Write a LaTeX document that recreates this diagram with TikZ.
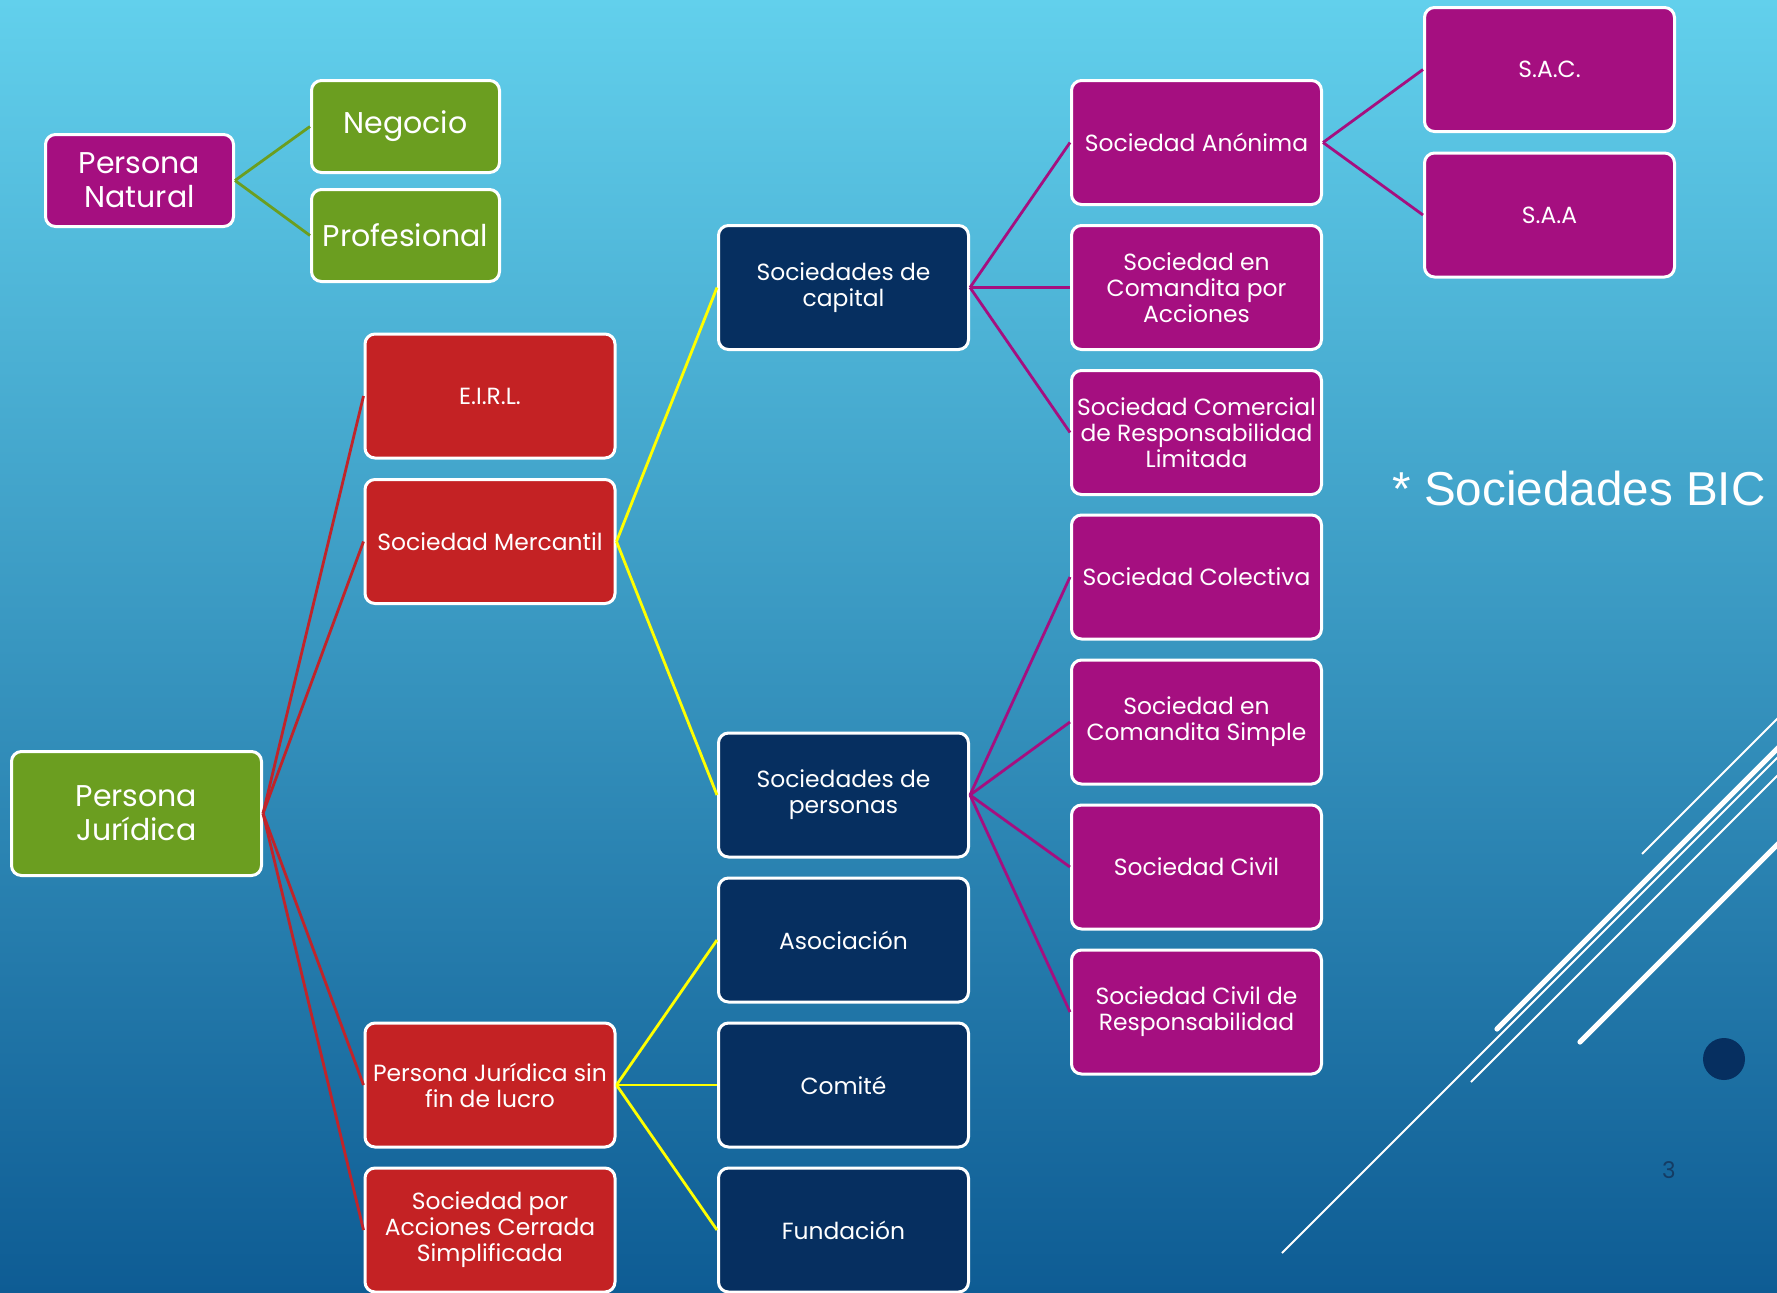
\documentclass[tikz,border=0pt]{standalone}
\usepackage{fontspec}
\setmainfont{Poppins}
\newfontfamily\bicfont{Liberation Sans}
\usetikzlibrary{positioning}

\definecolor{boxmag}{RGB}{165,15,128}
\definecolor{boxgreen}{RGB}{107,158,32}
\definecolor{boxred}{RGB}{196,34,36}
\definecolor{boxnavy}{RGB}{6,47,96}
\definecolor{linkred}{RGB}{192,36,42}
\definecolor{linkyel}{RGB}{255,255,0}
\definecolor{bgtop}{RGB}{98,208,236}
\definecolor{bgmid}{RGB}{52,150,196}
\definecolor{bgbot}{RGB}{14,92,148}
\definecolor{pagenum}{RGB}{20,60,100}

\tikzset{
  box/.style={draw=white, line width=1.5pt, rounded corners=5pt, text=white,
    align=center, inner sep=1pt, minimum width=125pt, minimum height=62pt,
    font=\fontsize{11.7}{13}\selectfont},
  smallbox/.style={box, minimum width=94pt, minimum height=46pt,
    font=\fontsize{15}{17}\selectfont},
  bigtext/.style={font=\fontsize{15}{17}\selectfont},
  magbox/.style={box, fill=boxmag},
  redbox/.style={box, fill=boxred},
  navybox/.style={box, fill=boxnavy},
  link/.style={line width=1.4pt},
}

\begin{document}
\begin{tikzpicture}[x=0.5pt, y=-0.5pt]
			%%%%% START %%%%%
			
			\shade[top color=bgtop, middle color=bgmid, bottom color=bgbot] (0,0) rectangle (1777,1292);
			\useasboundingbox (0,0) rectangle (1777,1292);
			
			% white strokes, lower right
			\begin{scope}
			\clip (0,0) rectangle (1777,1292);
			\draw[white, line width=1pt] (1642,854) -- (1800,696);
			\draw[white, line width=2.6pt, line cap=round] (1497,1029) -- (1800,726);
			\draw[white, line width=1pt] (1471,1082) -- (1800,753);
			\draw[white, line width=2.6pt, line cap=round] (1580,1042) -- (1800,822);
			\draw[white, line width=1pt] (1282,1253) -- (1800,735);
			\end{scope}
			\fill[boxnavy] (1724,1059) circle (21);
			\node[text=pagenum, font=\fontsize{11.5}{12}\selectfont] (pnum) at (1669,1170) {3};
			
			% persona natural
			\node[smallbox, fill=boxmag] (pnat) at (139.5,180.5) {Persona\\Natural};
			\node[smallbox, fill=boxgreen] (negocio) at (405.5,126.5) {Negocio};
			\node[smallbox, fill=boxgreen] (profesional) at (405.5,235.5) {Profesional};
			
			% persona juridica
			\node[box, bigtext, fill=boxgreen] (pjur) at (136.5,813.5) {Persona\\Jurídica};
			
			\node[redbox] (eirl) at (490,396) {E.I.R.L.};
			\node[redbox] (smerc) at (490,541.5) {Sociedad Mercantil};
			\node[redbox] (pjsfl) at (490,1085) {Persona Jurídica sin\\fin de lucro};
			\node[redbox] (sacs) at (490,1230) {Sociedad por\\Acciones Cerrada\\Simplificada};
			
			\node[navybox] (scap) at (843.5,287.5) {Sociedades de\\capital};
			\node[navybox] (spers) at (843.5,795) {Sociedades de\\personas};
			\node[navybox] (asoc) at (843.5,940) {Asociación};
			\node[navybox] (comite) at (843.5,1085) {Comité};
			\node[navybox] (fund) at (843.5,1230) {Fundación};
			
			\node[magbox] (sa) at (1196.5,142.5) {Sociedad Anónima};
			\node[magbox] (sca) at (1196.5,287.5) {Sociedad en\\Comandita por\\Acciones};
			\node[magbox] (scrl) at (1196.5,432.5) {Sociedad Comercial\\de Responsabilidad\\Limitada};
			\node[magbox] (scol) at (1196.5,577) {Sociedad Colectiva};
			\node[magbox] (scs) at (1196.5,722) {Sociedad en\\Comandita Simple};
			\node[magbox] (sciv) at (1196.5,867) {Sociedad Civil};
			\node[magbox] (scr) at (1196.5,1012) {Sociedad Civil de\\Responsabilidad};
			
			\node[magbox] (sac) at (1549.5,69.5) {S.A.C.};
			\node[magbox] (saa) at (1549.5,215) {S.A.A};
			
			\node[anchor=base west, inner sep=0pt, text=white, font=\bicfont\fontsize{23.8}{25}\selectfont] (bic) at (1392,505) {* Sociedades BIC};
			
			% links
			\draw[link, boxgreen] (pnat.east) -- (negocio.west);
			\draw[link, boxgreen] (pnat.east) -- (profesional.west);
			
			\draw[link, linkred] (pjur.east) -- (eirl.west);
			\draw[link, linkred] (pjur.east) -- (smerc.west);
			\draw[link, linkred] (pjur.east) -- (pjsfl.west);
			\draw[link, linkred] (pjur.east) -- (sacs.west);
			
			\draw[link, linkyel] (smerc.east) -- (scap.west);
			\draw[link, linkyel] (smerc.east) -- (spers.west);
			\draw[link, linkyel] (pjsfl.east) -- (asoc.west);
			\draw[link, linkyel] (pjsfl.east) -- (comite.west);
			\draw[link, linkyel] (pjsfl.east) -- (fund.west);
			
			\draw[link, boxmag] (scap.east) -- (sa.west);
			\draw[link, boxmag] (scap.east) -- (sca.west);
			\draw[link, boxmag] (scap.east) -- (scrl.west);
			\draw[link, boxmag] (spers.east) -- (scol.west);
			\draw[link, boxmag] (spers.east) -- (scs.west);
			\draw[link, boxmag] (spers.east) -- (sciv.west);
			\draw[link, boxmag] (spers.east) -- (scr.west);
			\draw[link, boxmag] (sa.east) -- (sac.west);
			\draw[link, boxmag] (sa.east) -- (saa.west);
			
			%%%%% END %%%%%
\end{tikzpicture}
\end{document}
